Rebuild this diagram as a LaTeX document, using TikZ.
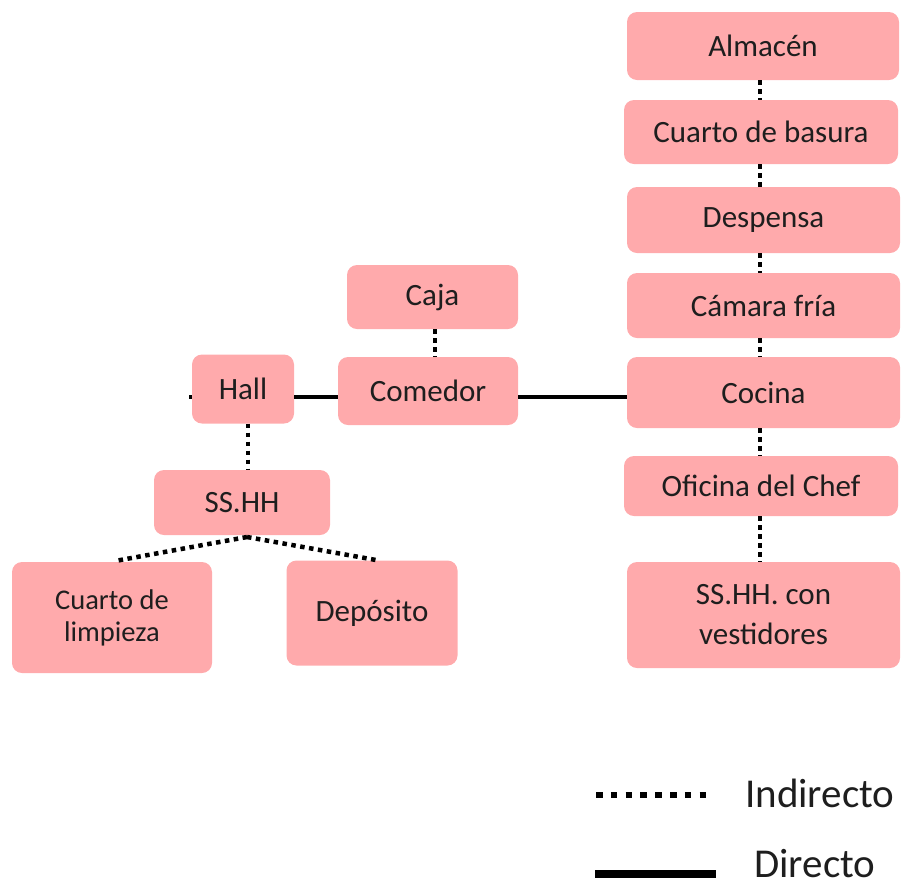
\documentclass[tikz,border=0pt]{standalone}
\usepackage{fontspec}
\setmainfont{Carlito}
\begin{document}
\begin{tikzpicture}[x=1pt,y=-1pt,
  room/.style={draw=none,fill=roompink,rounded corners=10pt,inner sep=0pt,
    align=center,text=textgrey,font=\fontsize{31}{40}\selectfont},
  indirect/.style={line width=4.5pt,dash pattern=on 4.5pt off 4.5pt},
  direct/.style={line width=4.8pt},
  legendtext/.style={font=\fontsize{41}{48}\selectfont,text=textgrey,anchor=west,inner sep=0pt}]
\definecolor{roompink}{RGB}{255,170,172}
\definecolor{textgrey}{RGB}{30,30,30}
\useasboundingbox (0,0) rectangle (902,887);

% kitchen column
\node[room,minimum width=272pt,minimum height=68pt] (alm) at (763,46) {Almacén};
\node[room,minimum width=274pt,minimum height=64pt] (bas) at (761,132) {Cuarto de basura};
\node[room,minimum width=273pt,minimum height=66pt] (des) at (763.5,220) {Despensa};
\node[room,minimum width=273pt,minimum height=65pt] (cam) at (763.5,305.5) {Cámara fría};
\node[room,minimum width=273pt,minimum height=71pt] (coc) at (763.5,392.5) {Cocina};
\node[room,minimum width=274pt,minimum height=60pt] (ofi) at (761,486) {Oficina del Chef};
\node[room,minimum width=273pt,minimum height=106pt] (ssv) at (763.5,615) {SS.HH. con\\vestidores};

% dining area
\node[room,minimum width=171pt,minimum height=64pt] (caja) at (432.5,297) {Caja};
\node[room,minimum width=102pt,minimum height=69pt] (hall) at (243,389) {Hall};
\node[room,minimum width=180pt,minimum height=68pt] (com) at (428,391) {Comedor};
\node[room,minimum width=176pt,minimum height=65pt] (ssh) at (242,502.5) {SS.HH};
\node[room,minimum width=200pt,minimum height=111pt,
  font=\fontsize{28.5}{32}\selectfont] (lim) at (112,617.5) {Cuarto de\\limpieza};
\node[room,minimum width=171pt,minimum height=105pt] (dep) at (372,613) {Depósito};

% direct links
\coordinate (hallstub) at (189,397);
\draw[direct] (hallstub) -- (hall.west |- hallstub);
\draw[direct] (hall.east |- hallstub) -- (com.west |- hallstub);
\draw[direct] (com.east |- hallstub) -- (coc.west |- hallstub);

% indirect links
\draw[indirect] (alm.south -| 760,0) -- (bas.north -| 760,0);
\draw[indirect] (bas.south -| 760,0) -- (des.north -| 760,0);
\draw[indirect] (des.south -| 760,0) -- (cam.north -| 760,0);
\draw[indirect] (cam.south -| 760,0) -- (coc.north -| 760,0);
\draw[indirect] (coc.south -| 760,0) -- (ofi.north -| 760,0);
\draw[indirect] (ofi.south -| 760,0) -- (ssv.north -| 760,0);
\draw[indirect] (caja.south -| 435,0) -- (com.north -| 435,0);
\draw[indirect] (hall.south -| 248,0) -- (ssh.north -| 248,0);
\coordinate (fork) at (247,537);
\draw[indirect] (fork) -- (115,561);
\draw[indirect] (fork) -- (376,560);

% legend
\coordinate (li1) at (596,795);
\coordinate (li2) at (712,795);
\coordinate (ld1) at (595,874);
\coordinate (ld2) at (716,874);
\draw[line width=6.5pt,dash pattern=on 6.5pt off 8.3pt] (li1) -- (li2);
\draw[line width=8pt] (ld1) -- (ld2);
\node[legendtext] (lind) at (745,793) {Indirecto};
\node[legendtext] (ldir) at (754,864) {Directo};
\end{tikzpicture}
\end{document}
